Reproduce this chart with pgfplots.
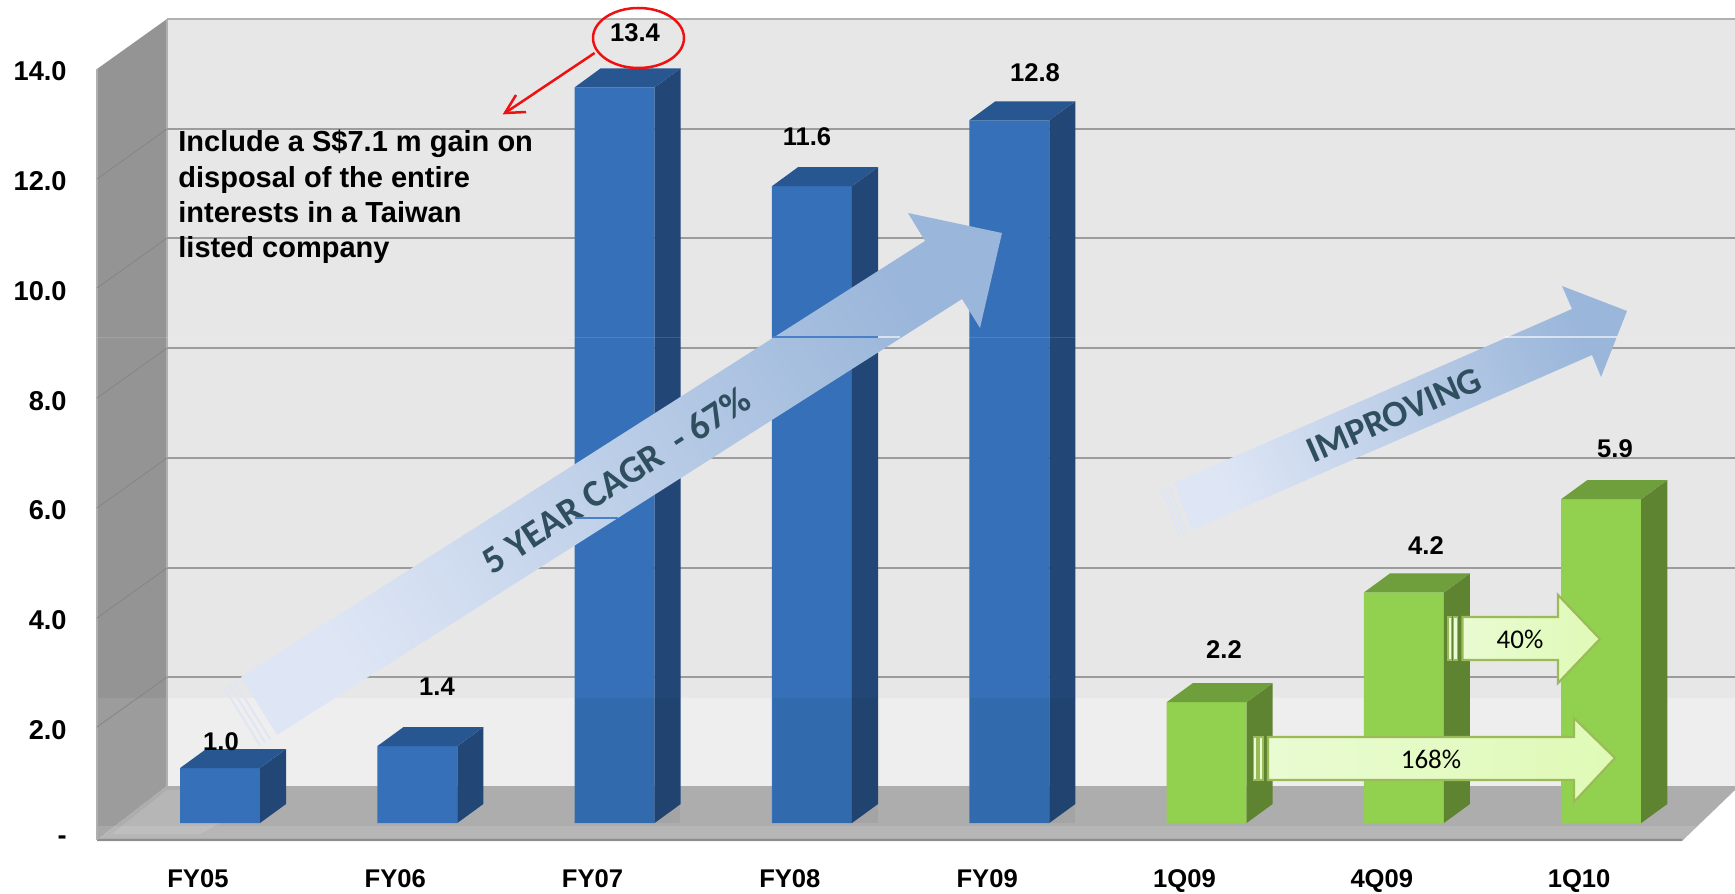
\documentclass[border=0pt]{standalone}
\usepackage{fontspec}
\setmainfont{Liberation Sans}
\newfontfamily\calfont{Carlito}
\usepackage{pgfplots}
\pgfplotsset{compat=1.18}
\definecolor{bfront}{HTML}{3570B8}
\definecolor{bside}{HTML}{224777}
\definecolor{btop}{HTML}{275690}
\definecolor{gfront}{HTML}{92D14F}
\definecolor{gside}{HTML}{5E8432}
\definecolor{gtop}{HTML}{6F9E3C}
\definecolor{wallback}{HTML}{E7E7E7}
\definecolor{wallleft}{HTML}{949494}
\definecolor{gridc}{HTML}{9C9C9C}
\definecolor{floorc}{HTML}{ADADAD}
\definecolor{arrtxt}{HTML}{2F4F5F}
\definecolor{garrow}{HTML}{9BBB59}
\definecolor{arra}{HTML}{DEE6F5}
\definecolor{arrb}{HTML}{9AB6DA}
\definecolor{stripe}{HTML}{DEE6F5}
\definecolor{seam}{HTML}{4A80C8}
\definecolor{redc}{HTML}{EE1111}
\definecolor{ga}{HTML}{E9FBD2}
\definecolor{gb}{HTML}{DFFAB6}
\newcommand\lab{\bfseries\fontsize{12.8}{15}\selectfont}
\newcommand\ylab{\bfseries\fontsize{13.6}{15}\selectfont}
\begin{document}
\begin{tikzpicture}
\path[use as bounding box] (0,0) rectangle (867.5pt,-447pt);
% ---- walls and floor, in picture pixels
\begin{scope}[x=0.5pt,y=-0.5pt]
\fill[wallback] (167,19) rectangle (1735,786);
\fill[white,opacity=.3] (167,698) rectangle (1735,786);
\fill[wallleft] (97,69) -- (167,19) -- (167,786) -- (97,840) -- cycle;
\fill[white,opacity=.08] (97,698) -- (167,698) -- (167,786) -- (97,840) -- cycle;
\fill[floorc] (97,840) -- (167,786) -- (1735,786) -- (1735,790) -- (1682,841) -- (97,841) -- cycle;
\fill[white,opacity=.12] (112,834) -- (167,790) -- (280,790) -- (200,834) -- cycle;
\fill[white,opacity=.12] (97,826) rectangle (1697,838);
\draw[gridc!90!black,line width=1pt] (97,840) -- (1682,840);
\draw[gridc!80!white,line width=1pt] (97,69) -- (97,840);
\draw[gridc!80!white,line width=1pt] (167,19) -- (1735,19);
\draw[gridc!80!white,line width=.8pt] (167,19) -- (167,786);
\foreach \yy in {129,238,348,458,568,677}{
  \draw[gridc,line width=1.2pt] (167,\yy) -- (1735,\yy);
  \draw[gridc!85!black,line width=.4pt] (167,\yy) -- (97,\yy+50);
}
\end{scope}
\begin{axis}[
  at={(48.5pt,-427.5pt)}, anchor=south west,
  scale only axis, width=819pt, height=427.5pt,
  xmin=-0.6234, xmax=7.678, ymin=-0.5829, ymax=14.991,
  clip=false,
  axis line style={draw=none},
  major tick length=0pt,
  xtick={-0.112,0.888,1.888,2.888,3.888,4.888,5.888,6.888},
  xticklabels={FY05,FY06,FY07,FY08,FY09,1Q09,4Q09,1Q10},
  ytick={-0.31,1.69,3.69,5.69,7.69,9.69,11.69,13.69},
  yticklabels={{-\hspace{7.5pt}},2.0,4.0,6.0,8.0,10.0,12.0,14.0},
  xticklabel style={font=\lab,inner sep=0pt,yshift=-7pt},
  yticklabel style={font=\ylab,inner sep=0pt,anchor=east,xshift=-15pt},
]
% front faces
\addplot[ybar,bar width=40pt,bar shift=0pt,fill=bfront,draw=none,forget plot]
  coordinates {(0,1.0)(1,1.4)(2,13.4)(3,11.6)(4,12.8)};
\addplot[ybar,bar width=40pt,bar shift=0pt,fill=gfront,draw=none,forget plot]
  coordinates {(5,2.2)(6,4.2)(7,5.9)};
% side faces
\addplot[fill=bside,draw=none,forget plot] coordinates {(0.2027,0)(0.3347,0.346)(0.3347,1.346)(0.2027,1.0)} --cycle;
\addplot[fill=bside,draw=none,forget plot] coordinates {(1.2027,0)(1.3347,0.346)(1.3347,1.746)(1.2027,1.4)} --cycle;
\addplot[fill=bside,draw=none,forget plot] coordinates {(2.2027,0)(2.3347,0.346)(2.3347,13.746)(2.2027,13.4)} --cycle;
\addplot[fill=bside,draw=none,forget plot] coordinates {(3.2027,0)(3.3347,0.346)(3.3347,11.946)(3.2027,11.6)} --cycle;
\addplot[fill=bside,draw=none,forget plot] coordinates {(4.2027,0)(4.3347,0.346)(4.3347,13.146)(4.2027,12.8)} --cycle;
\addplot[fill=gside,draw=none,forget plot] coordinates {(5.2027,0)(5.3347,0.346)(5.3347,2.546)(5.2027,2.2)} --cycle;
\addplot[fill=gside,draw=none,forget plot] coordinates {(6.2027,0)(6.3347,0.346)(6.3347,4.546)(6.2027,4.2)} --cycle;
\addplot[fill=gside,draw=none,forget plot] coordinates {(7.2027,0)(7.3347,0.346)(7.3347,6.246)(7.2027,5.9)} --cycle;
% top faces
\addplot[fill=btop,draw=none,forget plot] coordinates {(-0.2027,1.0)(-0.0707,1.346)(0.3347,1.346)(0.2027,1.0)} --cycle;
\addplot[fill=btop,draw=none,forget plot] coordinates {(0.7973,1.4)(0.9293,1.746)(1.3347,1.746)(1.2027,1.4)} --cycle;
\addplot[fill=btop,draw=none,forget plot] coordinates {(1.7973,13.4)(1.9293,13.746)(2.3347,13.746)(2.2027,13.4)} --cycle;
\addplot[fill=btop,draw=none,forget plot] coordinates {(2.7973,11.6)(2.9293,11.946)(3.3347,11.946)(3.2027,11.6)} --cycle;
\addplot[fill=btop,draw=none,forget plot] coordinates {(3.7973,12.8)(3.9293,13.146)(4.3347,13.146)(4.2027,12.8)} --cycle;
\addplot[fill=gtop,draw=none,forget plot] coordinates {(4.7973,2.2)(4.9293,2.546)(5.3347,2.546)(5.2027,2.2)} --cycle;
\addplot[fill=gtop,draw=none,forget plot] coordinates {(5.7973,4.2)(5.9293,4.546)(6.3347,4.546)(6.2027,4.2)} --cycle;
\addplot[fill=gtop,draw=none,forget plot] coordinates {(6.7973,5.9)(6.9293,6.246)(7.3347,6.246)(7.2027,5.9)} --cycle;
\end{axis}
% ---- annotations, in picture pixels
\begin{scope}[x=0.5pt,y=-0.5pt]
% lower band on the tall bars
\foreach \xa/\xb in {575/680,773/878,970/1075}{\fill[black,opacity=.05] (\xa,698) rectangle (\xb,823);}
% faint horizontal seam
\draw[white,opacity=.12,line width=.5pt] (97,337) -- (1735,337);
% big arrow
\shade[shading=axis,bottom color=arra,top color=arrb,shading angle=-57.5]
  (241,677) -- (925,241) -- (908,213) -- (1002,233) -- (980,328) -- (962,299) -- (277,735) -- cycle;
\foreach \d in {8,14,20}{
  \draw[stripe,line width=.9pt] ({241-.843*\d},{677+.537*\d}) -- ({277-.843*\d},{735+.537*\d});
}
\node[rotate=33,text=arrtxt,inner sep=0pt] at (616,480) {\calfont\bfseries\fontsize{19}{24}\selectfont 5 YEAR CAGR\ \ - 67\%};
% improving arrow
\shade[shading=axis,bottom color=arra,top color=arrb,shading angle=-66.4]
  (1174,483) -- (1572,309) -- (1562,286) -- (1627,311) -- (1601,377) -- (1592,355) -- (1192,530) -- cycle;
\foreach \d in {6,10,14}{
  \draw[stripe,line width=.8pt] ({1174-.916*\d},{483+.4*\d}) -- ({1192-.916*\d},{530+.4*\d});
}
\node[rotate=23.6,text=arrtxt,inner sep=0pt] at (1394,415) {\calfont\bfseries\fontsize{18.5}{24}\selectfont IMPROVING};
% seam pieces over the arrows
\draw[seam,line width=.6pt] (575,518) -- (618,518);
\draw[seam,line width=.6pt] (773,337) -- (878,337);
\draw[white,opacity=.6,line width=.6pt] (878,337) -- (900,337);
\draw[white,opacity=.6,line width=.6pt] (1505,337) -- (1617,337);
% 168% arrow
\foreach \a/\b in {1253.5/1257,1259/1263}{\draw[garrow,fill=ga,line width=.7pt] (\a,737) rectangle (\b,780);}
\draw[garrow,line width=1.1pt,left color=ga,right color=gb]
  (1268,737) -- (1574,737) -- (1574,718) -- (1615,758) -- (1574,802) -- (1574,780) -- (1268,780) -- cycle;
\node[inner sep=0pt] at (1431,759) {\calfont\fontsize{13.5}{16}\selectfont 168\%};
% 40% arrow
\foreach \a/\b in {1448/1451.5,1453.5/1457.5}{\draw[garrow,fill=ga,line width=.7pt] (\a,617) rectangle (\b,660);}
\draw[garrow,line width=1.1pt,left color=ga,right color=gb]
  (1462.5,617) -- (1558,617) -- (1558,595) -- (1600,639) -- (1558,683) -- (1558,660) -- (1462.5,660) -- cycle;
\node[inner sep=0pt] at (1520,639) {\calfont\fontsize{13.5}{16}\selectfont 40\%};
% data labels
\node[inner sep=0pt,font=\lab] at (221,742) {1.0};
\node[inner sep=0pt,font=\lab] at (437,687) {1.4};
\node[inner sep=0pt,font=\lab] at (635,33) {13.4};
\node[inner sep=0pt,font=\lab] at (807,137) {11.6};
\node[inner sep=0pt,font=\lab] at (1035,73) {12.8};
\node[inner sep=0pt,font=\lab] at (1224,650) {2.2};
\node[inner sep=0pt,font=\lab] at (1426,546) {4.2};
\node[inner sep=0pt,font=\lab] at (1615,449) {5.9};
% red callout
\draw[redc,line width=1.25pt] (638.5,38) ellipse [x radius=45.5,y radius=30];
\draw[redc,line width=1.25pt] (594.6,53) -- (505,113);
\draw[redc,line width=1.25pt] (516,95) -- (505,113) -- (526,112);
% note
\node[anchor=north west,inner sep=0pt,align=left,font=\bfseries\fontsize{14.5}{17.6}\selectfont] at (178,130)
  {Include a S\$7.1 m gain on\\disposal of the entire\\interests in a Taiwan\\listed company};
\end{scope}
\end{tikzpicture}
\end{document}
